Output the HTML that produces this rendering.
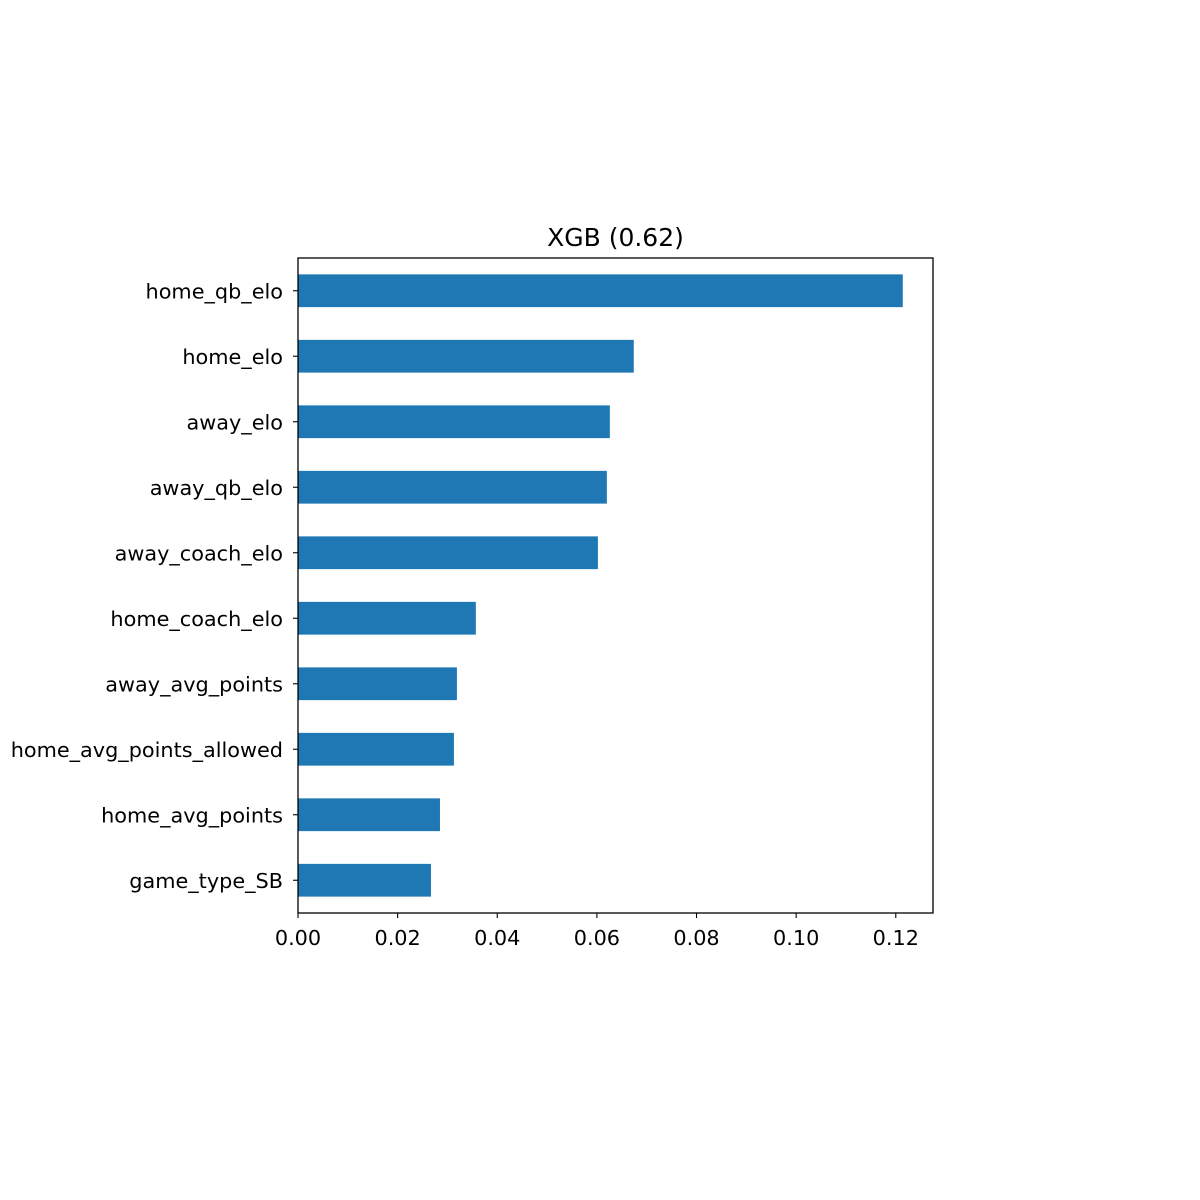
<!DOCTYPE html>
<html>
<head>
<meta charset="utf-8">
<style>
html,body{margin:0;padding:0;background:#fff;}
svg{display:block;font-family:"DejaVu Sans","Liberation Sans",sans-serif;}
</style>
</head>
<body>
<svg id="chart" width="1200" height="1200" viewBox="0 0 1200 1200">
<rect x="0" y="0" width="1200" height="1200" fill="#fff"/>
<text x="615.5" y="246" text-anchor="middle" font-size="25" fill="#000">XGB (0.62)</text>
<g id="bars"></g>
<g id="yaxis"></g>
<g id="xaxis"></g>
<rect x="298" y="258" width="635" height="655" fill="none" stroke="#000" stroke-width="1.3"/>
</svg>
<script>
const categories = ["home_qb_elo","home_elo","away_elo","away_qb_elo","away_coach_elo","home_coach_elo","away_avg_points","home_avg_points_allowed","home_avg_points","game_type_SB"];
const values = [0.1214,0.0674,0.0626,0.0620,0.0602,0.0357,0.0319,0.0313,0.0285,0.0267];
const xTicks = [0,0.02,0.04,0.06,0.08,0.10,0.12];
const xTickLabels = ["0.00","0.02","0.04","0.06","0.08","0.10","0.12"];

const NS = "http://www.w3.org/2000/svg";
const L = 298, R = 933, T = 258, B = 913;
const xMax = Math.max(...values) * 1.05;
const xScale = v => L + v / xMax * (R - L);
const n = categories.length;
const step = (B - T) / n;
const yCenter = i => T + step * (i + 0.5);

const bars = document.getElementById('bars');
const yaxis = document.getElementById('yaxis');
const xaxis = document.getElementById('xaxis');

categories.forEach((c, i) => {
  const r = document.createElementNS(NS, 'rect');
  r.setAttribute('x', xScale(0));
  r.setAttribute('y', yCenter(i) - step * 0.25);
  r.setAttribute('width', xScale(values[i]) - xScale(0));
  r.setAttribute('height', step * 0.5);
  r.setAttribute('fill', '#1f77b4');
  
  
  bars.appendChild(r);

  const tk = document.createElementNS(NS, 'line');
  tk.setAttribute('x1', L - 5); tk.setAttribute('x2', L);
  tk.setAttribute('y1', yCenter(i)); tk.setAttribute('y2', yCenter(i));
  tk.setAttribute('stroke', '#000'); tk.setAttribute('stroke-width', '1.1');
  
  
  yaxis.appendChild(tk);

  const t = document.createElementNS(NS, 'text');
  t.setAttribute('x', L - 15);
  t.setAttribute('y', yCenter(i) + 7.5);
  t.setAttribute('text-anchor', 'end');
  t.setAttribute('font-size', '20.8');
  t.textContent = c;
  
  
  yaxis.appendChild(t);
});

xTicks.forEach((v, i) => {
  const x = xScale(v);
  const tk = document.createElementNS(NS, 'line');
  tk.setAttribute('x1', x); tk.setAttribute('x2', x);
  tk.setAttribute('y1', B); tk.setAttribute('y2', B + 5);
  tk.setAttribute('stroke', '#000'); tk.setAttribute('stroke-width', '1.1');
  
  
  xaxis.appendChild(tk);

  const t = document.createElementNS(NS, 'text');
  t.setAttribute('x', x);
  t.setAttribute('y', B + 32);
  t.setAttribute('text-anchor', 'middle');
  t.setAttribute('font-size', '20.8');
  t.textContent = xTickLabels[i];
  
  
  xaxis.appendChild(t);
});
</script>
</body>
</html>
